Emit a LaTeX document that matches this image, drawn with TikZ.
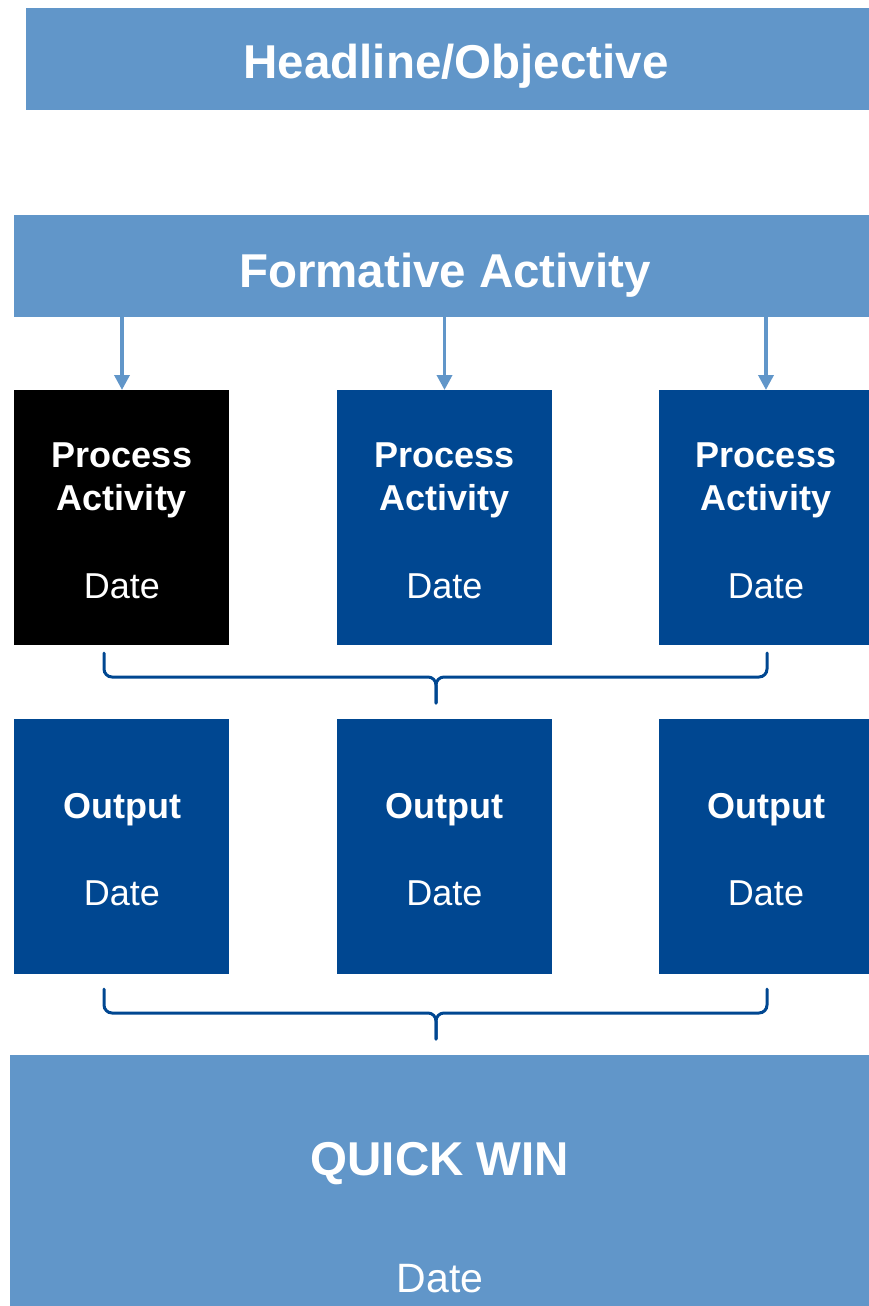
\documentclass[tikz,border=0pt]{standalone}
\usepackage{fontspec}
\setmainfont{Liberation Sans}
\usetikzlibrary{arrows.meta}
\definecolor{lightblue}{RGB}{97,150,201}
\definecolor{darkblue}{RGB}{0,71,145}
\tikzset{
  box/.style={draw=none, inner sep=0pt, outer sep=0pt, anchor=north west},
  lbox/.style={box, fill=lightblue},
  dbox/.style={box, fill=darkblue},
  bigtitle/.style={text=white, anchor=base, inner sep=0pt, font=\fontsize{47.5}{50}\selectfont\bfseries},
  midtitle/.style={text=white, anchor=base, inner sep=0pt, align=center, font=\fontsize{36}{43}\selectfont\bfseries},
  datetxt/.style={text=white, anchor=base, inner sep=0pt, font=\fontsize{36}{40}\selectfont},
  arr/.style={draw=lightblue, line width=3.5pt, -{Triangle[width=15pt,length=15pt]}},
  brace/.style={draw=darkblue, line width=3pt, rounded corners=8pt, line cap=round}
}
\begin{document}
\begin{tikzpicture}[x=1pt, y=-1pt]
\useasboundingbox (0,0) rectangle (869,1306);
% Headline
\node[lbox, minimum width=843pt, minimum height=102pt] (head) at (26,8) {};
\node[bigtitle] (headt) at (456,78) {Headline/Objective};
% Formative
\node[lbox, minimum width=855pt, minimum height=102pt] (form) at (14,215) {};
\node[bigtitle] (formt) at (445,287) {Formative Activity};
% Process boxes
\node[box, fill=black, minimum width=215pt, minimum height=255pt] (p1) at (14,390) {};
\node[dbox, minimum width=215pt, minimum height=255pt] (p2) at (337,390) {};
\node[dbox, minimum width=210pt, minimum height=255pt] (p3) at (659,390) {};
\node[midtitle] (p1t) at (122,467) {Process};
\node[midtitle] (p1u) at (122,510) {Activity};
\node[datetxt] (p1d) at (122,598) {Date};
\node[midtitle] (p2t) at (444.5,467) {Process};
\node[midtitle] (p2u) at (444.5,510) {Activity};
\node[datetxt] (p2d) at (444.5,598) {Date};
\node[midtitle] (p3t) at (766,467) {Process};
\node[midtitle] (p3u) at (766,510) {Activity};
\node[datetxt] (p3d) at (766,598) {Date};
% Arrows
\draw[arr] (form.south -| p1t) -- (p1.north -| p1t);
\draw[arr] (form.south -| p2t) -- (p2.north -| p2t);
\draw[arr] (form.south -| p3t) -- (p3.north -| p3t);
% Output boxes
\node[dbox, minimum width=215pt, minimum height=255pt] (o1) at (14,719) {};
\node[dbox, minimum width=215pt, minimum height=255pt] (o2) at (337,719) {};
\node[dbox, minimum width=210pt, minimum height=255pt] (o3) at (659,719) {};
\node[midtitle] (o1t) at (122,818) {Output};
\node[datetxt] (o1d) at (122,905) {Date};
\node[midtitle] (o2t) at (444.5,818) {Output};
\node[datetxt] (o2d) at (444.5,905) {Date};
\node[midtitle] (o3t) at (766,818) {Output};
\node[datetxt] (o3d) at (766,905) {Date};
% Brace 1
\coordinate (b1l) at (104,653);
\coordinate (b1r) at (767,653);
\coordinate (b1m) at (436,677);
\coordinate (b1t) at (436,703);
\draw[brace] (b1l) -- (b1l |- b1m) -- (b1m) -- (b1t);
\draw[brace] (b1r) -- (b1r |- b1m) -- (b1m) -- (b1t);
% Brace 2
\coordinate (b2l) at (104,989);
\coordinate (b2r) at (767,989);
\coordinate (b2m) at (436,1013);
\coordinate (b2t) at (436,1039);
\draw[brace] (b2l) -- (b2l |- b2m) -- (b2m) -- (b2t);
\draw[brace] (b2r) -- (b2r |- b2m) -- (b2m) -- (b2t);
% Quick win
\node[lbox, minimum width=859pt, minimum height=251pt] (qw) at (10,1055) {};
\node[bigtitle] (qwt) at (440,1175) {QUICK WIN};
\node[datetxt, font=\fontsize{41}{45}\selectfont] (qwd) at (440,1292) {Date};
\end{tikzpicture}
\end{document}
